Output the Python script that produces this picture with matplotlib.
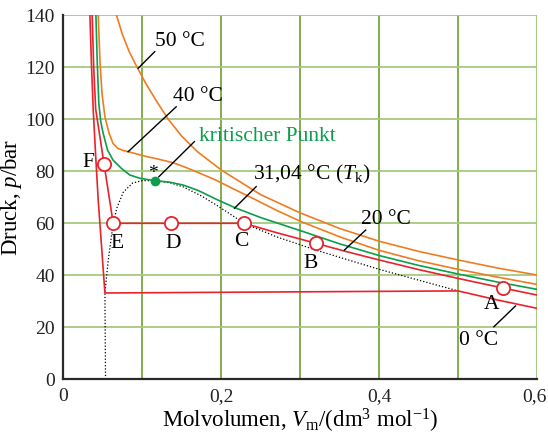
import numpy as np
import matplotlib.pyplot as plt
from matplotlib.transforms import ScaledTranslation

plt.rcParams['font.family'] = ['Liberation Serif', 'DejaVu Serif']
plt.rcParams['mathtext.fontset'] = 'custom'
plt.rcParams['mathtext.rm'] = 'Liberation Serif'
plt.rcParams['mathtext.it'] = 'Liberation Serif:italic'

########################################################################
# Isotherm data: molar volume in dm^3/mol, pressure in bar

v_0 = [0.0337, 0.0358, 0.0379, 0.041, 0.0442, 0.0485, 0.0527, 0.50, 0.55, 0.60]
p_0 = [140, 120, 103.6, 86, 69, 51, 33.2, 34.0, 30.5, 27.3]

v_20 = [0.0366, 0.0385, 0.041, 0.0465, 0.0516, 0.0632, 0.137, 0.229,
        0.27, 0.32, 0.36, 0.4, 0.45, 0.5, 0.557, 0.6]
p_20 = [140, 120, 104, 93, 82.8, 60, 60, 60,
        56.4, 52.3, 49.0, 45.9, 42.2, 38.8, 35.1, 32.4]

v_crit = [0.0413, 0.043, 0.045, 0.0475, 0.0505, 0.056, 0.063, 0.0737, 0.084, 0.097,
          0.116, 0.135, 0.152, 0.171, 0.194, 0.219, 0.25, 0.3, 0.35, 0.4,
          0.45, 0.5, 0.55, 0.6]
p_crit = [140, 122, 106, 99, 94.6, 88.2, 84.3, 81.1, 78.6, 77.3,
          76.4, 75.8, 74.7, 72.6, 69.2, 65.8, 62.2, 57.2, 52.1, 47.6,
          43.8, 40.5, 37.4, 34.6]

v_40 = [0.0442, 0.0465, 0.049, 0.0527, 0.058, 0.063, 0.069, 0.076, 0.084, 0.095,
        0.105, 0.12, 0.139, 0.155, 0.175, 0.194, 0.215, 0.236, 0.27, 0.3,
        0.35, 0.4, 0.45, 0.5, 0.55, 0.6]
p_40 = [140, 122, 110, 101, 94.6, 90.7, 88.8, 88.0, 87.4, 86.5,
        85.7, 84.7, 83.3, 81.5, 79.0, 76.5, 73.3, 70.2, 65.0, 60.8,
        54.8, 49.6, 45.6, 42.3, 39.3, 36.5]

v_50 = [0.0674, 0.075, 0.0835, 0.0935, 0.105, 0.118, 0.133, 0.15, 0.17, 0.2,
        0.25, 0.3, 0.35, 0.4, 0.45, 0.5, 0.55, 0.6]
p_50 = [140, 132.5, 126, 120, 113.5, 107, 100, 93.5, 87.5, 80.5,
        71, 64, 58, 53.1, 49.2, 45.9, 42.8, 40.1]

# coexistence boundary (dotted)
v_dome = [0.0535, 0.0527, 0.057, 0.0632, 0.068, 0.076, 0.088, 0.1, 0.116, 0.135,
          0.152, 0.175, 0.194, 0.229, 0.27, 0.32, 0.4, 0.5]
p_dome = [0, 33.2, 46, 60, 66, 72, 75.5, 76.4, 76.4, 75.6,
          74, 70.5, 67, 60, 54.8, 49.7, 42.3, 34.0]

# state points on the 20 °C isotherm
point_names = ['A', 'B', 'C', 'D', 'E', 'F']
point_v = [0.557, 0.32, 0.229, 0.137, 0.0632, 0.0516]
point_p = [35.1, 52.3, 60, 60, 60, 82.8]
label_v = [0.5423, 0.3137, 0.226, 0.139, 0.0682, 0.0312]
label_p = [28.6, 44.6, 52.9, 52.3, 52.3, 83.2]

crit_v, crit_p = 0.116, 76.4

x_ticks = [0, 0.2, 0.4, 0.6]
x_ticklabels = ['0', '0,2', '0,4', '0,6']

########################################################################
# Plot

red = '#e8232b'
green = '#0d9d4c'
orange = '#f07c22'

fig = plt.figure(figsize=(5.48, 4.36), dpi=100)
ax = fig.add_axes([0.1155, 0.130, 0.8645, 0.835])

for x in np.arange(0.1, 0.61, 0.1):
    ax.axvline(x, color='#79a83e', lw=1.3, zorder=0)
for y in range(20, 141, 20):
    ax.axhline(y, color='#a6c982', lw=1.3, zorder=0)
ax.axvline(0.6, color='#a6c982', lw=1.5, zorder=0)

ax.plot(v_dome, p_dome, color='black', lw=0.9, ls=(0, (1, 1.6)), zorder=2)
ax.plot(v_50, p_50, color=orange, lw=1.2, zorder=3)
ax.plot(v_40, p_40, color=orange, lw=1.2, zorder=3)
ax.plot(v_crit, p_crit, color=green, lw=1.2, zorder=3)
ax.plot(v_20, p_20, color=red, lw=1.2, zorder=3)
ax.plot(v_0, p_0, color=red, lw=1.2, zorder=3)

ax.plot(point_v, point_p, 'o', ms=9.5, mfc='white', mec=red, mew=1.3, zorder=5)
for name, x, y in zip(point_names, label_v, label_p):
    ax.text(x, y, name, fontsize=15.5, ha='center', va='center', zorder=6)

ax.plot(crit_v, crit_p, 'o', ms=6, color=green, zorder=6)
ax.text(crit_v - 0.003, 79.2, '*', fontsize=14, ha='center', va='center', zorder=6)

# isotherm labels with leader lines
leaders = [
    ('50 °C', (0.0948, 119.6), (0.1158, 126.0), (0.116, 129.8), 'black'),
    ('40 °C', (0.082, 87.5), (0.143, 104.8), (0.1385, 108.7), 'black'),
    ('kritischer Punkt', (0.121, 77.9), (0.166, 91.4), (0.1714, 93.3), green),
    (r'31,04 °C ($T_\mathrm{k}$)', (0.2169, 65.8), (0.2443, 74.1), (0.240, 78.6), 'black'),
    ('20 °C', (0.356, 49.7), (0.383, 57.4), (0.377, 61.3), 'black'),
    ('0 °C', (0.5727, 28.2), (0.5453, 20.2), (0.501, 15.1), 'black'),
]
for text, start, end, pos, color in leaders:
    ax.plot([start[0], end[0]], [start[1], end[1]], color='black', lw=1.0, zorder=4)
    ax.text(pos[0], pos[1], text, fontsize=15.5, color=color, ha='left', va='center', zorder=6)

ax.set_xlim(0, 0.6)
ax.set_ylim(0, 140)
ax.set_xticks(x_ticks)
ax.set_xticklabels(x_ticklabels)
ax.set_yticks(range(0, 141, 20))
ax.tick_params(length=0, labelsize=14, colors='#222222')
ax.tick_params(axis='x', pad=6)
ax.tick_params(axis='y', pad=6)

# pull the last x tick label in so it stays inside the figure
last = ax.get_xticklabels()[-1]
last.set_transform(last.get_transform() + ScaledTranslation(-0.03, 0, fig.dpi_scale_trans))

for side in ['top', 'right']:
    ax.spines[side].set_visible(False)
for side in ['left', 'bottom']:
    ax.spines[side].set_color('#2a2a2a')
    ax.spines[side].set_linewidth(1.6)
    ax.spines[side].set_zorder(7)

ax.set_xlabel(r'Molvolumen, $V_\mathrm{m}$/(dm$^3$ mol$^{-1}$)', fontsize=16.5)
ax.set_ylabel(r'Druck, $p$/bar', fontsize=16.5)
ax.xaxis.set_label_coords(0.5, -0.075)
ax.yaxis.set_label_coords(-0.082, 0.5)

fig.savefig('out.png', dpi=100)
